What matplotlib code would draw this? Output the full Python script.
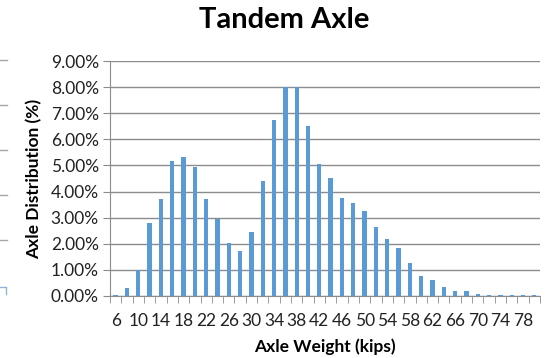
import numpy as np
import matplotlib.pyplot as plt
from matplotlib.lines import Line2D

plt.rcParams['font.family'] = ['Lato', 'DejaVu Sans']

# axle weight categories (kips) and distribution (%)
weights = list(range(6, 82, 2))
dist = [0.05, 0.31, 1.00, 2.79, 3.70, 5.16, 5.33, 4.94, 3.70, 2.95,
        2.02, 1.72, 2.47, 4.40, 6.74, 8.02, 8.02, 6.52, 5.06, 4.50,
        3.75, 3.57, 3.26, 2.64, 2.20, 1.85, 1.28, 0.75, 0.62, 0.36,
        0.19, 0.19, 0.09, 0.04, 0.04, 0.04, 0.04, 0.04]
yticks = np.arange(0, 10, 1)

fig = plt.figure(figsize=(5.48, 3.58), dpi=100)
ax = fig.add_axes([0.2007, 0.1732, 0.7847, 0.6564])

x = np.arange(len(weights))
ax.bar(x, dist, width=0.38, color='#5B9BD5', zorder=3)

ax.set_xlim(-0.5, len(weights) - 0.5)
ax.set_ylim(0, 9)
ax.set_yticks(yticks)
ax.set_yticklabels([f'{v:.2f}%' for v in yticks])
ax.yaxis.grid(True, color='#8c8c8c', linewidth=1, zorder=0)

# category labels every other bar, tick marks between categories
ax.set_xticks(x[::2])
ax.set_xticklabels([str(w) for w in weights[::2]])
ax.tick_params(axis='x', length=0, pad=12, labelsize=12.5, colors='#222222')
ax.set_xticks(np.arange(-0.5, len(weights), 1), minor=True)
ax.tick_params(axis='x', which='minor', length=5, color='#8c8c8c', direction='out')
ax.tick_params(axis='y', length=5, color='#8c8c8c', labelcolor='#222222',
               labelsize=12.5, pad=3)

for side in ['top', 'right']:
    ax.spines[side].set_visible(False)
ax.spines['left'].set_color('#8c8c8c')
ax.spines['bottom'].set_color('#8c8c8c')

ax.set_xlabel('Axle Weight (kips)', fontsize=12.5, fontweight='bold', labelpad=7)
ax.set_ylabel('Axle Distribution (%)', fontsize=12.5, fontweight='bold', labelpad=6)
fig.text(0.518, 0.945, 'Tandem Axle', fontsize=21, fontweight='bold',
         ha='center', va='center')

# remnants of the neighbouring chart at the left edge
for yp in [60, 105, 150, 195, 240]:
    fig.add_artist(Line2D([0, 7 / 548], [1 - yp / 358] * 2, color='#a6a6a6', lw=1))
fig.add_artist(Line2D([0, 6 / 548, 6 / 548], [1 - 287 / 358, 1 - 287 / 358, 1 - 294 / 358],
                      color='#8fb4d9', lw=1))

fig.savefig('out.png', dpi=100)
